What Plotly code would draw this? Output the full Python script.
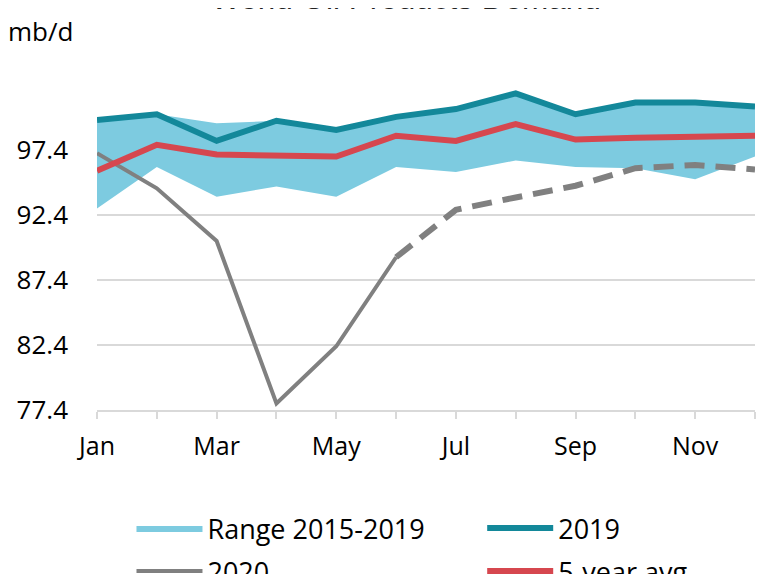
import plotly.graph_objects as go

months = ["Jan", "Feb", "Mar", "Apr", "May", "Jun", "Jul", "Aug", "Sep", "Oct", "Nov", "Dec"]
tick_labels = ["Jan", "", "Mar", "", "May", "", "Jul", "", "Sep", "", "Nov", ""]
y_ticks = [77.4, 82.4, 87.4, 92.4, 97.4]

range_low = [92.9, 96.1, 93.8, 94.6, 93.8, 96.1, 95.7, 96.6, 96.1, 96.0, 95.15, 96.9]
range_high = [99.7, 100.15, 99.45, 99.65, 98.95, 99.95, 100.55, 101.75, 100.15, 101.05, 101.05, 100.75]
y2019 = [99.7, 100.15, 98.1, 99.65, 98.95, 99.95, 100.55, 101.75, 100.15, 101.05, 101.05, 100.75]
avg5 = [95.8, 97.8, 97.05, 96.95, 96.9, 98.5, 98.1, 99.4, 98.2, 98.35, 98.4, 98.5]
y2020_actual = [97.15, 94.45, 90.4, 77.9, 82.3, 89.15]
y2020_forecast = [89.15, 92.8, 93.75, 94.65, 96.0, 96.25, 95.9]

TEAL = "#13889A"
BAND = "#7DCBE0"
RED = "#D6474F"
GREY = "#808080"
FONT = "Open Sans"

fig = go.Figure()

fig.add_trace(go.Scatter(x=months, y=range_low, mode="lines", line=dict(width=0),
                         showlegend=False, hoverinfo="skip"))
fig.add_trace(go.Scatter(x=months, y=range_high, mode="lines", line=dict(width=0, color=BAND),
                         fill="tonexty", fillcolor=BAND, name="Range 2015-2019",
                         legend="legend", legendgroup="a"))
fig.add_trace(go.Scatter(x=months[:6], y=y2020_actual, mode="lines",
                         line=dict(color=GREY, width=4), name="2020",
                         legend="legend", legendgroup="b"))
fig.add_trace(go.Scatter(x=months[5:], y=y2020_forecast, mode="lines",
                         line=dict(color=GREY, width=6, dash="20px,11px"),
                         name="2020 forecast", showlegend=False))
fig.add_trace(go.Scatter(x=months, y=y2019, mode="lines",
                         line=dict(color=TEAL, width=6), name="2019",
                         legend="legend2", legendgroup="c"))
fig.add_trace(go.Scatter(x=months, y=avg5, mode="lines",
                         line=dict(color=RED, width=6), name="5-year avg",
                         legend="legend2", legendgroup="d"))

legend_common = dict(orientation="v", yanchor="top", xanchor="left", y=-0.289,
                     font=dict(size=27, family=FONT), itemwidth=66,
                     tracegroupgap=5, bgcolor="rgba(0,0,0,0)")

fig.update_layout(
    width=768, height=574,
    margin=dict(l=88.5, r=21, t=77, b=172, autoexpand=False),
    paper_bgcolor="white", plot_bgcolor="white",
    font=dict(family=FONT, color="#000000", size=24),
    showlegend=True,
    legend=dict(x=0.0524, **legend_common),
    legend2=dict(x=0.5854, **legend_common),
    annotations=[
        dict(text="World Oil Products Demand", xref="paper", yref="paper", x=0.469, y=1.207,
             xanchor="center", yanchor="bottom", showarrow=False,
             font=dict(size=31.5, family="Liberation Sans", color="#222222")),
        dict(text="mb/d", xref="paper", yref="paper", x=-0.139, y=1.166,
             xanchor="left", yanchor="middle", showarrow=False,
             font=dict(size=26, family=FONT)),
    ],
)

fig.update_xaxes(type="category", categoryorder="array", categoryarray=months,
                 range=[0, 11], tickmode="array", tickvals=months, ticktext=tick_labels,
                 showline=True, linecolor="#D9D9D9", linewidth=1.5,
                 ticks="outside", ticklen=7, tickcolor="#D9D9D9", tickwidth=1.5,
                 showgrid=False, zeroline=False, tickfont=dict(size=25), ticklabelstandoff=6)
fig.update_yaxes(range=[77.4, 102.4], tickmode="array", tickvals=y_ticks,
                 ticktext=[f"{v:.1f}" for v in y_ticks],
                 showgrid=True, gridcolor="#D9D9D9", gridwidth=1.5, zeroline=False,
                 showline=False, ticks="", tickfont=dict(size=26), ticklabelstandoff=28)

fig.write_html("out.html")
